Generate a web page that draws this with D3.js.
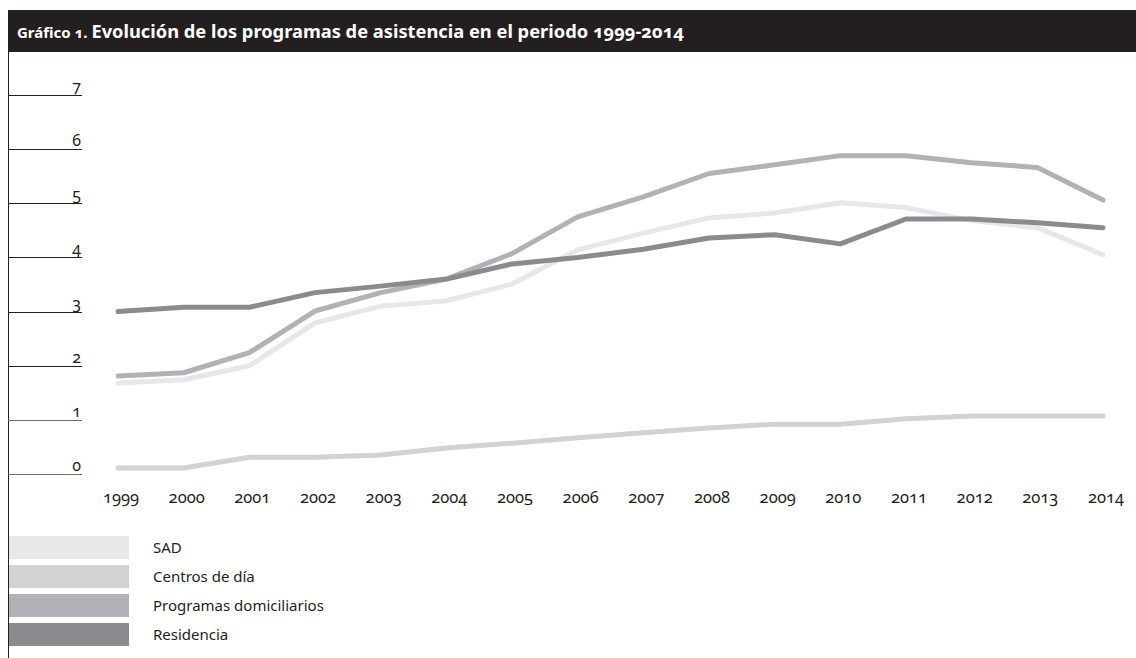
<!DOCTYPE html>
<html>
<head>
<meta charset="utf-8">
<script src="https://cdn.jsdelivr.net/npm/d3@7"></script>
<style>
  body { margin: 0; background: #fff; }
  svg text { font-family: "Noto Sans", sans-serif; fill: #231f20; }
  .num { font-variant-numeric: oldstyle-nums; }
</style>
</head>
<body>
<div id="svganchor"></div>
<script>
/*
------------------------------
DATA
------------------------------
*/
const years = [1999, 2000, 2001, 2002, 2003, 2004, 2005, 2006, 2007, 2008, 2009, 2010, 2011, 2012, 2013, 2014]
const yTicks = [0, 1, 2, 3, 4, 5, 6, 7]
const seriesNames = ["SAD", "Centros de día", "Programas domiciliarios", "Residencia"]
const seriesColors = ["#e6e7e8", "#d1d2d4", "#b1b2b5", "#8a8b8e"]

const sad = [1.68, 1.74, 2.0, 2.79, 3.1, 3.2, 3.51, 4.14, 4.45, 4.73, 4.82, 5.01, 4.92, 4.68, 4.55, 4.05]
const centros = [0.11, 0.11, 0.31, 0.31, 0.35, 0.48, 0.57, 0.67, 0.76, 0.85, 0.92, 0.92, 1.02, 1.07, 1.07, 1.07]
const domiciliarios = [1.81, 1.87, 2.24, 3.01, 3.35, 3.6, 4.07, 4.75, 5.12, 5.55, 5.71, 5.88, 5.88, 5.75, 5.66, 5.06]
const residencia = [3.0, 3.08, 3.08, 3.35, 3.47, 3.6, 3.88, 4.0, 4.15, 4.36, 4.42, 4.25, 4.71, 4.71, 4.64, 4.55]

const seriesValues = [sad, centros, domiciliarios, residencia]

/*
------------------------------
METHOD: set the size of the canvas
------------------------------
*/
const width = 1136
const height = 658

const svg = d3.select("#svganchor").append("svg")
  .attr("width", width)
  .attr("height", height)

// scales
let x = d3.scaleLinear().domain([1999, 2014]).range([118, 1103])
let y = d3.scaleLinear().domain([0, 7]).range([474, 95])

/*
------------------------------
METHOD: title bar
------------------------------
*/
svg.append("rect")
  .attr("x", 8).attr("y", 10)
  .attr("width", width - 8).attr("height", 42)
  .attr("fill", "#231f20")

const title = svg.append("text")
  .attr("x", 17).attr("y", 38)
  .style("font-weight", 700)
title.append("tspan")
  .attr("class", "num")
  .style("font-size", "15px")
  .style("fill", "#fff")
  .text("Gráfico 1. ")
title.append("tspan")
  .attr("class", "num")
  .style("font-size", "18.3px")
  .style("fill", "#fff")
  .text("Evolución de los programas de asistencia en el periodo 1999-2014")

// left frame line
svg.append("line")
  .attr("x1", 8.5).attr("x2", 8.5)
  .attr("y1", 52).attr("y2", height)
  .attr("stroke", "#231f20")
  .attr("stroke-width", 1)

/*
------------------------------
METHOD: y axis (short rules with labels)
------------------------------
*/
const yAxis = svg.append("g").selectAll("g")
  .data(yTicks)
  .join("g")
  .attr("transform", d => `translate(0,${Math.round(y(d)) + 0.5})`)

yAxis.append("line")
  .attr("x1", 8).attr("x2", 82)
  .attr("stroke", d => d < 2 ? "#6d6e71" : "#231f20")
  .attr("stroke-width", 1)

yAxis.append("text")
  .attr("class", "num")
  .attr("x", 81)
  .attr("y", -4)
  .attr("text-anchor", "end")
  .style("font-size", "16px")
  .text(d => d)

/*
------------------------------
METHOD: x axis labels
------------------------------
*/
svg.append("g").selectAll("text")
  .data(years)
  .join("text")
  .attr("class", "num")
  .attr("x", d => x(d) + 3)
  .attr("y", 503)
  .attr("text-anchor", "middle")
  .style("font-size", "16.5px")
  .text(d => d)

/*
------------------------------
METHOD: draw the lines
------------------------------
*/
let line = d3.line()
  .x((d, i) => x(years[i]))
  .y(d => y(d))

svg.append("g").selectAll("path")
  .data(seriesValues)
  .join("path")
  .attr("fill", "none")
  .attr("stroke", (d, i) => seriesColors[i])
  .attr("stroke-width", 5)
  .attr("stroke-linecap", "round")
  .attr("stroke-linejoin", "round")
  .attr("d", line)

/*
------------------------------
METHOD: legend
------------------------------
*/
const legend = svg.append("g").selectAll("g")
  .data(seriesNames)
  .join("g")
  .attr("transform", (d, i) => `translate(9,${536 + i * 29})`)

legend.append("rect")
  .attr("width", 120)
  .attr("height", 23)
  .attr("fill", (d, i) => seriesColors[i])

legend.append("text")
  .attr("x", 144)
  .attr("y", 17)
  .style("font-size", "15px")
  .text(d => d)
</script>
</body>
</html>
